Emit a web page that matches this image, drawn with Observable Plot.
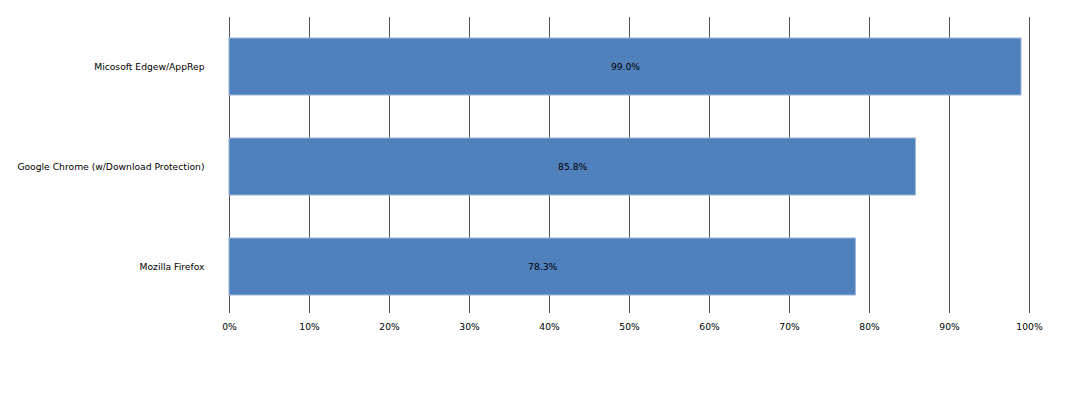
<!DOCTYPE html>
<html><head><meta charset="utf-8">
<script src="https://cdn.jsdelivr.net/npm/d3@7"></script>
<script src="https://cdn.jsdelivr.net/npm/@observablehq/plot@0.6"></script>
<style>body{margin:0;background:#fff;} svg{display:block;}</style>
</head><body><div id="chart"></div>
<script>
const browsers = ["Micosoft Edgew/AppRep", "Google Chrome (w/Download Protection)", "Mozilla Firefox"];
const values = [0.990, 0.858, 0.783];
const ticks = [0,0.1,0.2,0.3,0.4,0.5,0.6,0.7,0.8,0.9,1.0];
const data = browsers.map((b,i)=>({browser:b, value:values[i]}));

const chart = Plot.plot({
  width: 1065, height: 398,
  marginLeft: 229, marginRight: 36, marginTop: 16, marginBottom: 82,
  style: {fontFamily: "DejaVu Sans, sans-serif", fontSize: "9.2px", color: "#000", background: "#fff"},
  x: {domain: [0,1], ticks: ticks, tickFormat: d => Math.round(d*100) + "%", label: null, tickSize: 0, tickPadding: 7},
  y: {domain: browsers, paddingInner: 0.43, paddingOuter: 0.215, label: null, tickSize: 0, tickPadding: 25},
  marks: [
    Plot.ruleX(ticks, {stroke: "#555", strokeWidth: 1, strokeOpacity: 1, insetTop: 1, insetBottom: 3}),
    Plot.barX(data, {x: "value", y: "browser", fill: "#4F81BD", stroke: "#9BB5D9", strokeWidth: 1}),
    Plot.text(data, {x: d => d.value/2, y: "browser", text: d => (d.value*100).toFixed(1) + "%", fill: "#000", fontSize: 9.2}),
    Plot.axisX({ticks: ticks, tickFormat: d => Math.round(d*100) + "%", tickSize: 0, tickPadding: 7, label: null}),
    Plot.axisY({tickSize: 0, tickPadding: 25, label: null})
  ]
});
document.getElementById("chart").append(chart);
</script></body></html>
